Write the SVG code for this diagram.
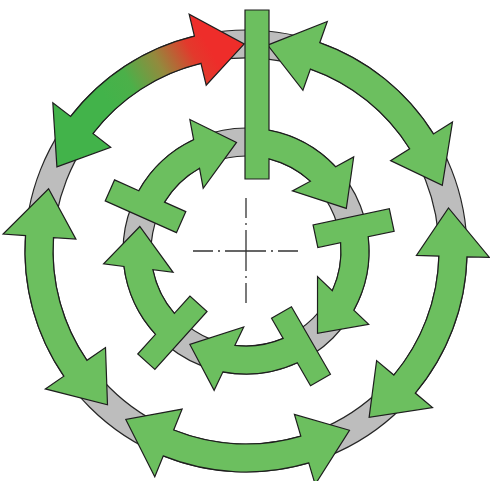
<svg xmlns="http://www.w3.org/2000/svg" xmlns:xlink="http://www.w3.org/1999/xlink" width="490" height="481" viewBox="0 0 490 481">
<style>
.ring{fill:#bdbdbd;stroke:#262626;stroke-width:1.2;fill-rule:evenodd}
.arw{fill:#6cbf5f;stroke:#1e1e1e;stroke-width:1.2;stroke-linejoin:miter}
.grad{fill:url(#rg);stroke:#1e1e1e;stroke-width:1.2}
.cross{stroke:#333;stroke-width:1.3;fill:none;stroke-dasharray:20 5 2 5 41 5 2 5 20}
</style>
<defs>
<linearGradient id="rg" gradientUnits="userSpaceOnUse" x1="115" y1="115" x2="215" y2="58">
<stop offset="0" stop-color="#42b34a"/>
<stop offset="0.25" stop-color="#4bb049"/>
<stop offset="0.55" stop-color="#938a3d"/>
<stop offset="0.85" stop-color="#e3392c"/>
<stop offset="1" stop-color="#ee2d2a"/>
</linearGradient>
<path id="innerArrow" d="M234.5,102 L257.5,102 L257.5,128.54 A123,123 0 0 1 326.37,157.89 L343.28,146.23 L341.33,198.16 L285.93,186.36 L302.77,174.83 A95,95 0 0 0 257.5,156.7 L257.5,180 L234.5,180 Z"/>
</defs>
<rect width="490" height="481" fill="#fff"/>
<g id="ring-outer"><path class="ring" d="M25,251 A221,221 0 1 1 467,251 A221,221 0 1 1 25,251 Z M53,251 A193,193 0 1 0 439,251 A193,193 0 1 0 53,251 Z"/></g>
<g id="ring-inner"><path class="ring" d="M123,251 A123,123 0 1 1 369,251 A123,123 0 1 1 123,251 Z M151,251 A95,95 0 1 0 341,251 A95,95 0 1 0 151,251 Z"/></g>
<g id="arrows">
<g id="outer-arrow-red"><path class="grad" d="M70.67,116.46 A221,221 0 0 1 194.41,36.11 L189.15,14.23 L244.19,44.01 L206.2,85.21 L200.94,63.33 A193,193 0 0 0 92.88,133.51 L110.73,147.21 L56.9,166.8 L52.82,102.77 Z"/></g>
<g id="outer-arrow-1"><path class="arw" d="M319.77,42.68 A221,221 0 0 1 433.42,133.89 L452.5,121.96 L442.3,185.32 L390.59,160.65 L409.67,148.73 A193,193 0 0 0 310.43,69.07 L302.91,90.28 L267.64,45.13 L327.28,21.47 Z"/></g>
<g id="outer-arrow-2"><path class="arw" d="M466.92,256.79 A221,221 0 0 1 415.29,393.06 L432.53,407.52 L369.13,417.4 L376.61,360.6 L393.85,375.06 A193,193 0 0 0 438.93,256.05 L416.44,255.46 L448.48,207.96 L489.42,257.37 Z"/></g>
<g id="outer-arrow-3"><path class="arw" d="M308.77,462.9 A221,221 0 0 1 163.21,455.91 L154.78,476.77 L125.8,419.52 L182.13,409.08 L173.7,429.95 A193,193 0 0 0 300.82,436.05 L294.43,414.48 L349.5,430.27 L315.16,484.47 Z"/></g>
<g id="outer-arrow-4"><path class="arw" d="M63.87,376.18 A221,221 0 0 1 25.54,235.58 L3.09,234.01 L48.58,188.75 L75.92,239.11 L53.47,237.54 A193,193 0 0 0 86.94,360.32 L105.49,347.57 L107.49,404.83 L45.33,388.92 Z"/></g>
<g id="inner-arrow-1"><use xlink:href="#innerArrow" class="arw" transform="rotate(-66 246 251)"/></g>
<g id="inner-arrow-3"><use xlink:href="#innerArrow" class="arw" transform="rotate(78 246 251)"/></g>
<g id="inner-arrow-4"><use xlink:href="#innerArrow" class="arw" transform="rotate(150 246 251)"/></g>
<g id="inner-arrow-5"><use xlink:href="#innerArrow" class="arw" transform="rotate(222 246 251)"/></g>
<g id="bar-inner-arrow-2"><path class="arw" d="M245,10 L269,10 L269,130.17 A123,123 0 0 1 335.66,166.8 L353.69,156.97 L346.33,208.41 L292.46,190.88 L310.42,181.18 A95,95 0 0 0 269,158.83 L269,179 L245,179 Z"/></g>
</g>
<g id="crosshair">
<line class="cross" x1="246" y1="198" x2="246" y2="303"/>
<line class="cross" x1="193" y1="251" x2="298" y2="251"/>
</g>
</svg>
